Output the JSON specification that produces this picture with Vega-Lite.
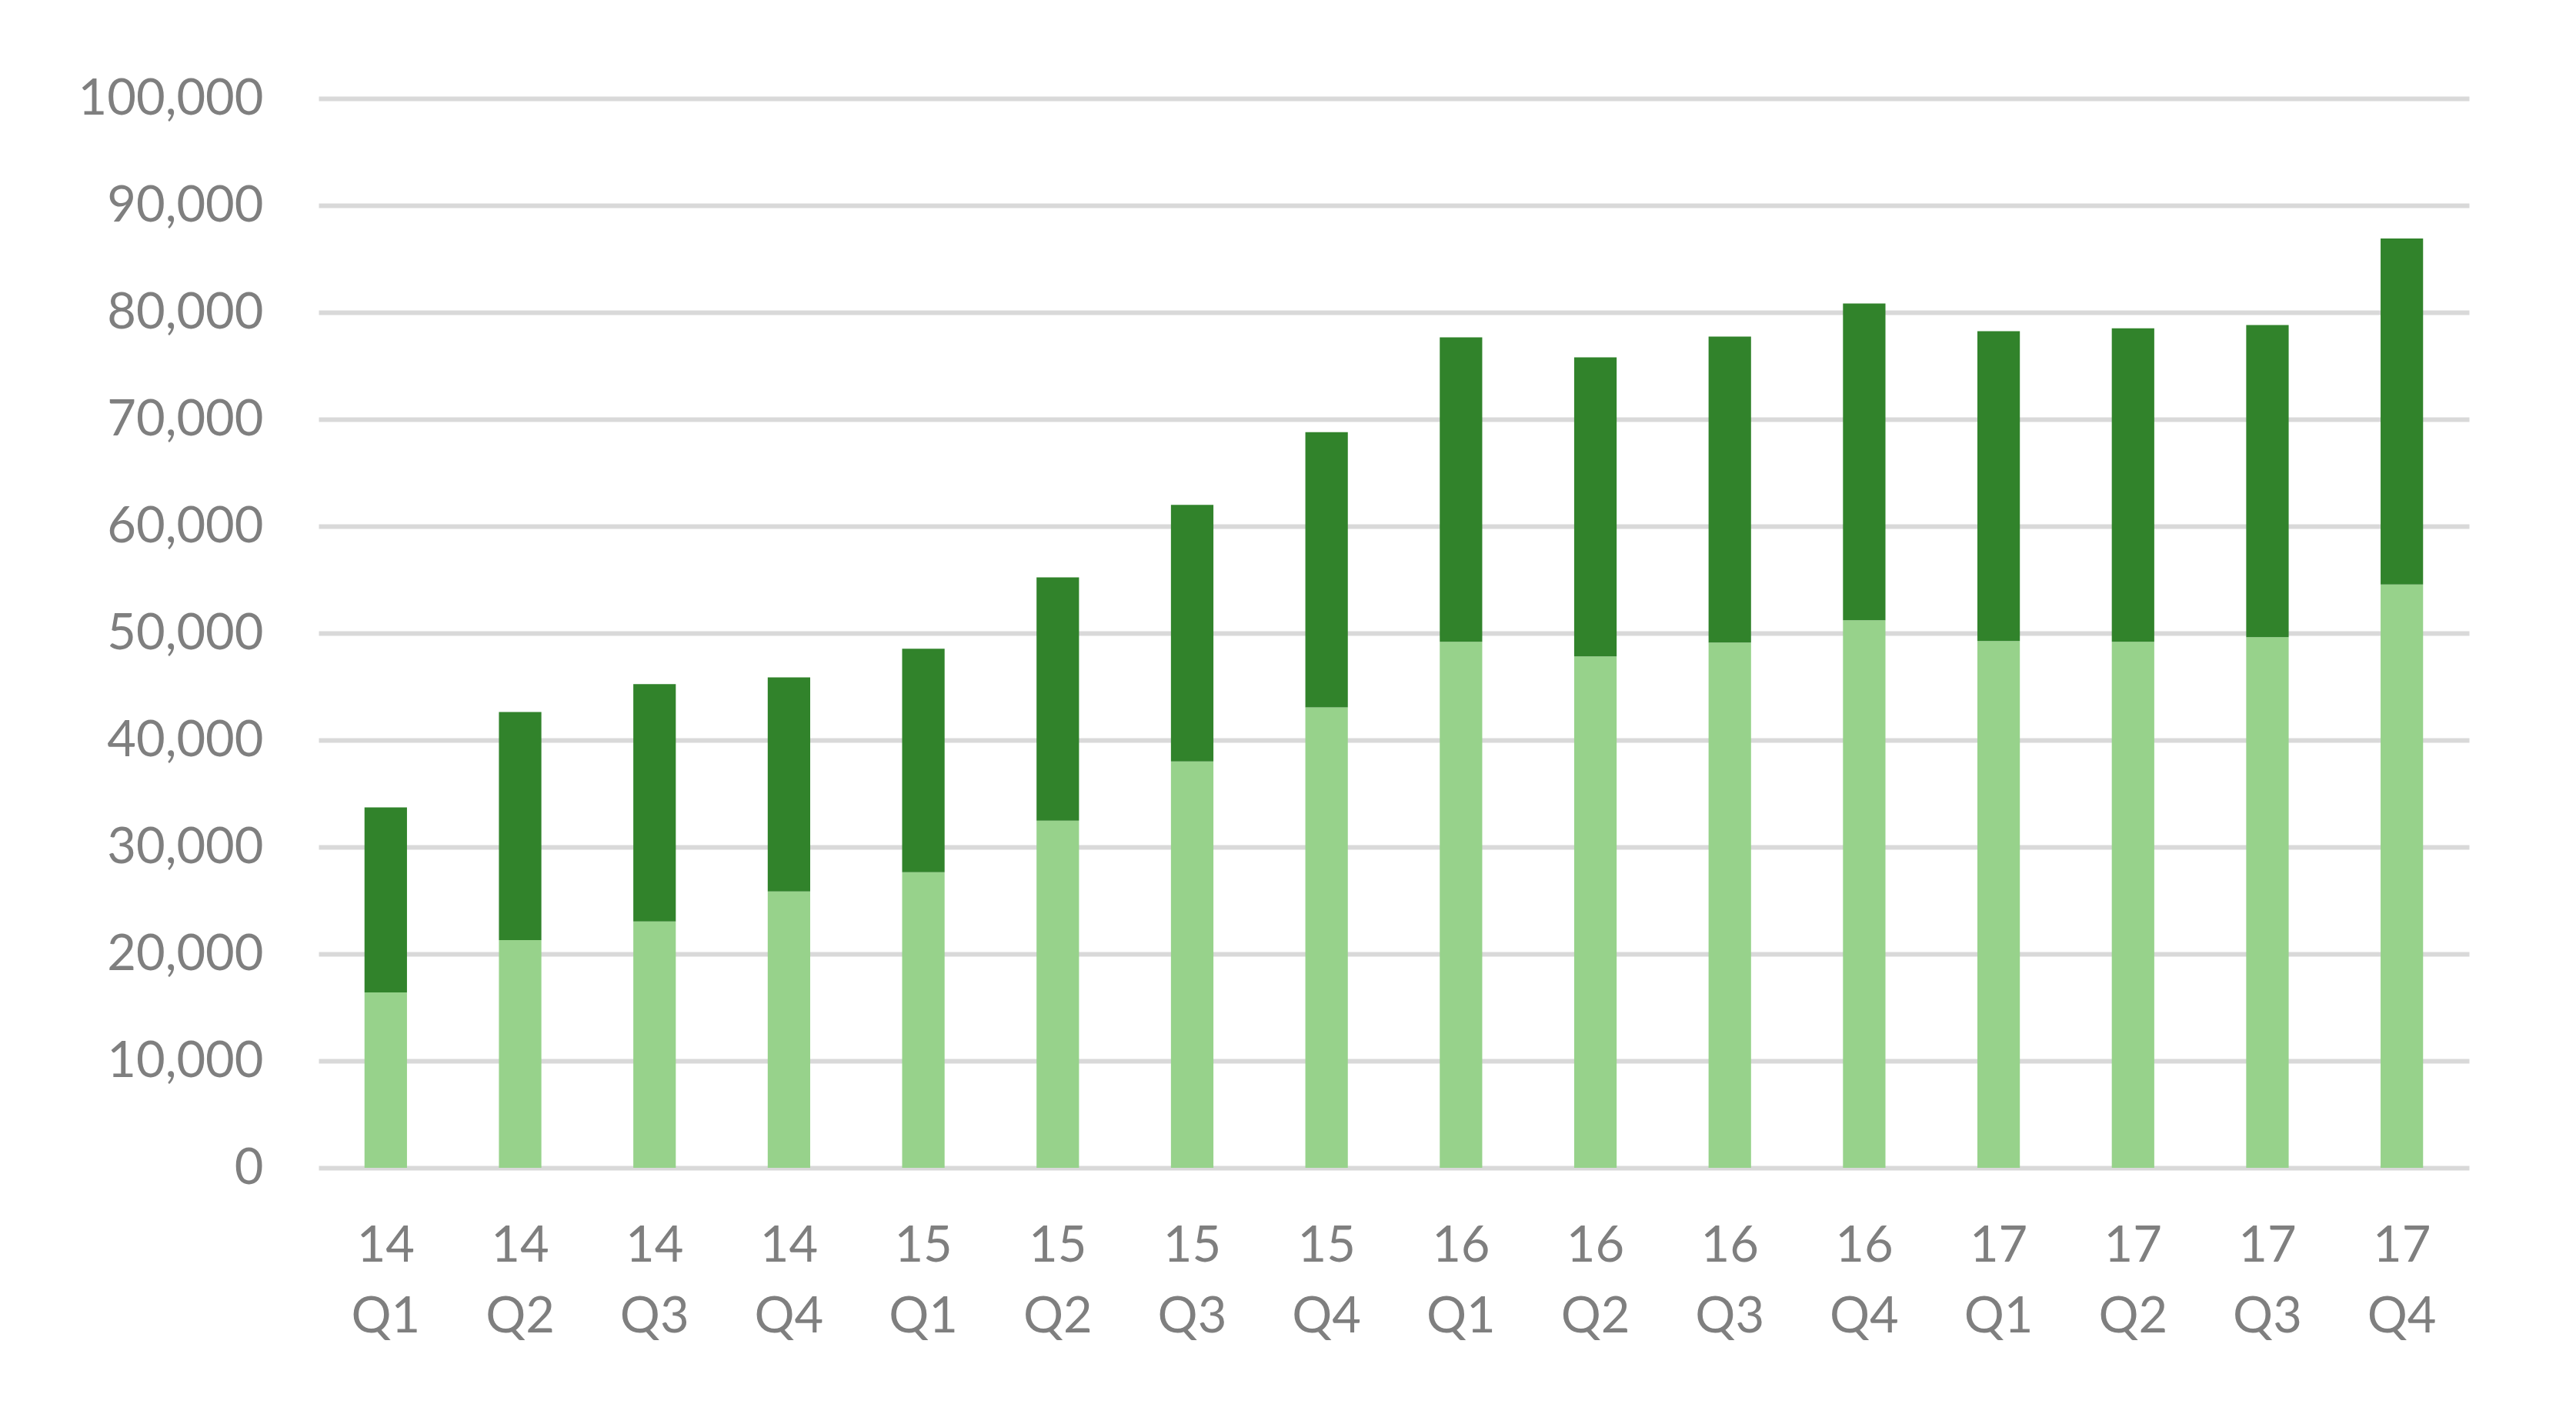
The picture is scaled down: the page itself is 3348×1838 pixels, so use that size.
{
  "$schema": "https://vega.github.io/schema/vega-lite/v6.json",
  "width": 2795,
  "height": 1390,
  "autosize": "none",
  "padding": {"left": 414, "top": 128, "right": 139, "bottom": 320},
  "background": "white",
  "config": {"view": {"stroke": null}, "font": "Lato"},
  "data": {
    "values": [
      {"quarter": "14 Q1", "series": "Series 1", "value": 16400},
      {"quarter": "14 Q1", "series": "Series 2", "value": 17300},
      {"quarter": "14 Q2", "series": "Series 1", "value": 21300},
      {"quarter": "14 Q2", "series": "Series 2", "value": 21330},
      {"quarter": "14 Q3", "series": "Series 1", "value": 23040},
      {"quarter": "14 Q3", "series": "Series 2", "value": 22190},
      {"quarter": "14 Q4", "series": "Series 1", "value": 25850},
      {"quarter": "14 Q4", "series": "Series 2", "value": 20020},
      {"quarter": "15 Q1", "series": "Series 1", "value": 27640},
      {"quarter": "15 Q1", "series": "Series 2", "value": 20900},
      {"quarter": "15 Q2", "series": "Series 1", "value": 32470},
      {"quarter": "15 Q2", "series": "Series 2", "value": 22750},
      {"quarter": "15 Q3", "series": "Series 1", "value": 38010},
      {"quarter": "15 Q3", "series": "Series 2", "value": 23980},
      {"quarter": "15 Q4", "series": "Series 1", "value": 43050},
      {"quarter": "15 Q4", "series": "Series 2", "value": 25750},
      {"quarter": "16 Q1", "series": "Series 1", "value": 49190},
      {"quarter": "16 Q1", "series": "Series 2", "value": 28470},
      {"quarter": "16 Q2", "series": "Series 1", "value": 47830},
      {"quarter": "16 Q2", "series": "Series 2", "value": 27960},
      {"quarter": "16 Q3", "series": "Series 1", "value": 49120},
      {"quarter": "16 Q3", "series": "Series 2", "value": 28610},
      {"quarter": "16 Q4", "series": "Series 1", "value": 51210},
      {"quarter": "16 Q4", "series": "Series 2", "value": 29620},
      {"quarter": "17 Q1", "series": "Series 1", "value": 49270},
      {"quarter": "17 Q1", "series": "Series 2", "value": 28970},
      {"quarter": "17 Q2", "series": "Series 1", "value": 49190},
      {"quarter": "17 Q2", "series": "Series 2", "value": 29320},
      {"quarter": "17 Q3", "series": "Series 1", "value": 49630},
      {"quarter": "17 Q3", "series": "Series 2", "value": 29190},
      {"quarter": "17 Q4", "series": "Series 1", "value": 54550},
      {"quarter": "17 Q4", "series": "Series 2", "value": 32360}
    ]
  },
  "mark": {"type": "bar"},
  "encoding": {
    "x": {
      "field": "quarter",
      "type": "nominal",
      "sort": null,
      "scale": {"paddingInner": 0.684, "paddingOuter": 0.342},
      "axis": {
        "title": null,
        "domain": false,
        "ticks": false,
        "labelAngle": 0,
        "labelExpr": "split(datum.label, ' ')",
        "labelFontSize": 65,
        "labelColor": "#7f7f7f",
        "labelLineHeight": 92,
        "labelPadding": 70,
        "labelBaseline": "top",
        "labelLimit": 400
      }
    },
    "y": {
      "field": "value",
      "type": "quantitative",
      "stack": "zero",
      "scale": {"domain": [0, 100000], "nice": false},
      "axis": {
        "title": null,
        "values": [0, 10000, 20000, 30000, 40000, 50000, 60000, 70000, 80000, 90000, 100000],
        "format": ",.0f",
        "domain": false,
        "ticks": false,
        "grid": true,
        "gridColor": "#d9d9d9",
        "gridWidth": 6,
        "labelFontSize": 65,
        "labelColor": "#7f7f7f",
        "labelPadding": 72,
        "labelLimit": 400
      }
    },
    "color": {
      "field": "series",
      "type": "nominal",
      "scale": {"domain": ["Series 1", "Series 2"], "range": ["#97d28b", "#31832b"]},
      "legend": null
    },
    "order": {"field": "series", "type": "nominal", "sort": "ascending"}
  }
}
